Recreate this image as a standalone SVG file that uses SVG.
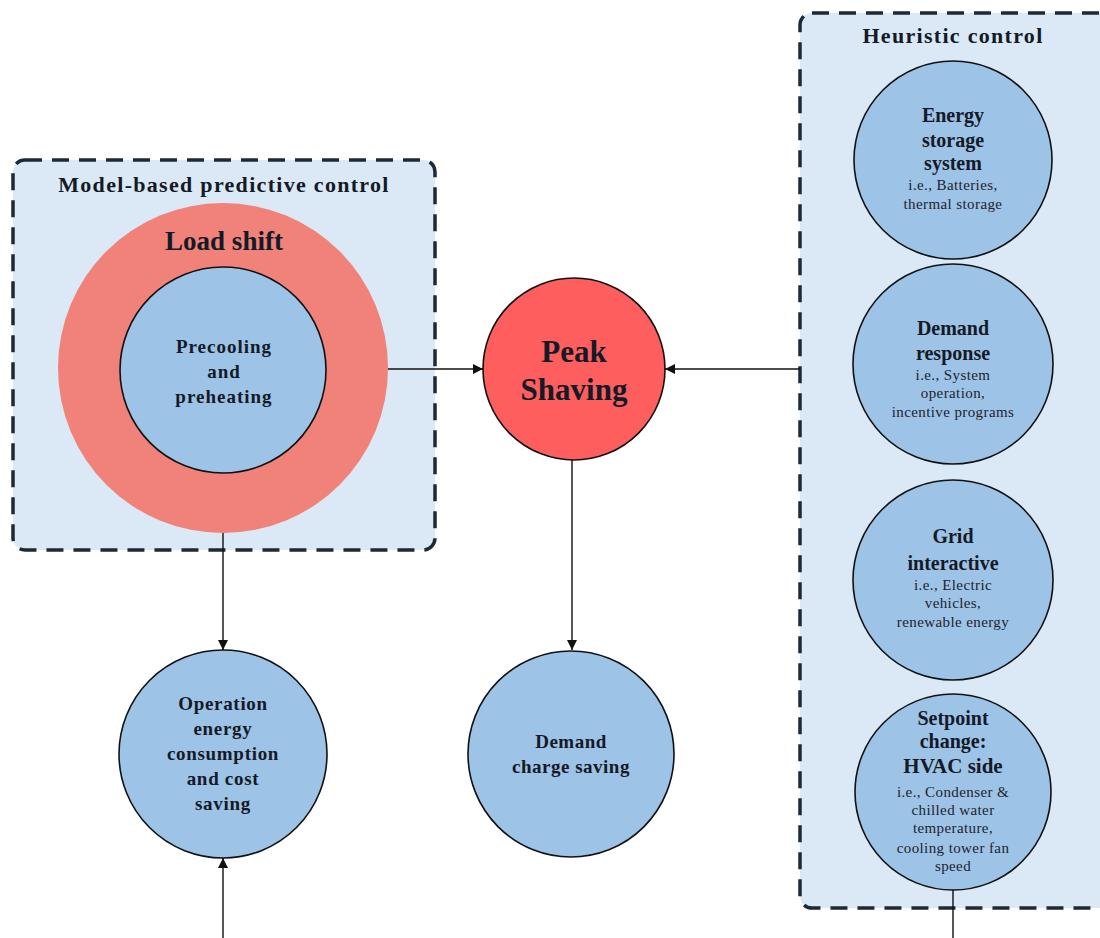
<svg xmlns="http://www.w3.org/2000/svg" width="1100" height="938" viewBox="0 0 1100 938">
<defs>
<style>
.box{fill:#dbe8f5;stroke:#1c2a38;stroke-width:3.5;stroke-dasharray:17 10}
.bc{fill:#9dc3e6;stroke:#111;stroke-width:1.6}
.t{font-family:"Liberation Serif","Times New Roman",serif;font-weight:bold;fill:#141a26;text-anchor:middle}
.s{font-family:"Liberation Serif","Times New Roman",serif;fill:#1e2430;text-anchor:middle;font-size:15px;letter-spacing:0.4px}
.c{stroke:#111;stroke-width:1.4;fill:none}
</style>
<marker id="ah" viewBox="0 0 10 10" refX="10" refY="5" markerWidth="10" markerHeight="10" markerUnits="userSpaceOnUse" orient="auto">
<path d="M0,0 L10,5 L0,10 Z" fill="#111"/>
</marker>
</defs>
<rect width="1100" height="938" fill="#ffffff"/>

<g id="mpc">
<rect class="box" x="13" y="160" width="422" height="390" rx="12"/>
<text class="t" x="224" y="192" font-size="22" letter-spacing="1.3">Model-based predictive control</text>
</g>

<g id="heuristic">
<rect class="box" x="800" y="13" width="330" height="895" rx="12"/>
<text class="t" x="953" y="43" font-size="22" letter-spacing="1.3">Heuristic control</text>
</g>

<g id="load-shift">
<circle cx="223" cy="368" r="165" fill="#f0827a"/>
<text class="t" x="224" y="250" font-size="27">Load shift</text>
</g>

<g id="precooling">
<circle class="bc" cx="223" cy="370" r="103"/>
<text class="t" font-size="19" letter-spacing="1"><tspan x="224" y="353">Precooling</tspan><tspan x="224" y="378">and</tspan><tspan x="224" y="403">preheating</tspan></text>
</g>

<g id="peak-shaving">
<circle cx="574" cy="369" r="91" fill="#fe5e5e" stroke="#111" stroke-width="1.6"/>
<text class="t" font-size="31"><tspan x="574" y="362">Peak</tspan><tspan x="574" y="400">Shaving</tspan></text>
</g>

<g id="energy-storage">
<circle class="bc" cx="953" cy="160" r="99"/>
<text class="t" font-size="20"><tspan x="953" y="122">Energy</tspan><tspan x="953" y="147">storage</tspan><tspan x="953" y="170">system</tspan></text>
<text class="s"><tspan x="953" y="190">i.e., Batteries,</tspan><tspan x="953" y="209">thermal storage</tspan></text>
</g>

<g id="demand-response">
<circle class="bc" cx="953" cy="364" r="100"/>
<text class="t" font-size="20"><tspan x="953" y="335">Demand</tspan><tspan x="953" y="360">response</tspan></text>
<text class="s"><tspan x="953" y="380">i.e., System</tspan><tspan x="953" y="398">operation,</tspan><tspan x="953" y="417">incentive programs</tspan></text>
</g>

<g id="grid-interactive">
<circle class="bc" cx="953" cy="580" r="100"/>
<text class="t" font-size="20"><tspan x="953" y="543">Grid</tspan><tspan x="953" y="570">interactive</tspan></text>
<text class="s"><tspan x="953" y="590">i.e., Electric</tspan><tspan x="953" y="608">vehicles,</tspan><tspan x="953" y="627">renewable energy</tspan></text>
</g>

<g id="setpoint-change">
<circle class="bc" cx="953" cy="792" r="98"/>
<text class="t" font-size="20"><tspan x="953" y="725">Setpoint</tspan><tspan x="953" y="748">change:</tspan><tspan x="953" y="773" font-size="21">HVAC side</tspan></text>
<text class="s"><tspan x="953" y="797">i.e., Condenser &amp;</tspan><tspan x="953" y="815">chilled water</tspan><tspan x="953" y="833">temperature,</tspan><tspan x="953" y="853">cooling tower fan</tspan><tspan x="953" y="871">speed</tspan></text>
</g>

<g id="operation-saving">
<circle class="bc" cx="223" cy="754" r="104"/>
<text class="t" font-size="19" letter-spacing="0.7"><tspan x="223" y="710">Operation</tspan><tspan x="223" y="735">energy</tspan><tspan x="223" y="760">consumption</tspan><tspan x="223" y="785">and cost</tspan><tspan x="223" y="810">saving</tspan></text>
</g>

<g id="demand-charge-saving">
<circle class="bc" cx="571" cy="754" r="103"/>
<text class="t" font-size="19" letter-spacing="0.5"><tspan x="571" y="748">Demand</tspan><tspan x="571" y="773">charge saving</tspan></text>
</g>

<g id="connectors">
<line class="c" x1="388" y1="369" x2="483" y2="369" marker-end="url(#ah)"/>
<line class="c" x1="800" y1="369" x2="665" y2="369" marker-end="url(#ah)"/>
<line class="c" x1="572" y1="460" x2="572" y2="650" marker-end="url(#ah)"/>
<line class="c" x1="223" y1="533" x2="223" y2="650" marker-end="url(#ah)"/>
<line class="c" x1="223" y1="938" x2="223" y2="858" marker-end="url(#ah)"/>
<line class="c" x1="953" y1="890" x2="953" y2="938"/>
</g>
</svg>
